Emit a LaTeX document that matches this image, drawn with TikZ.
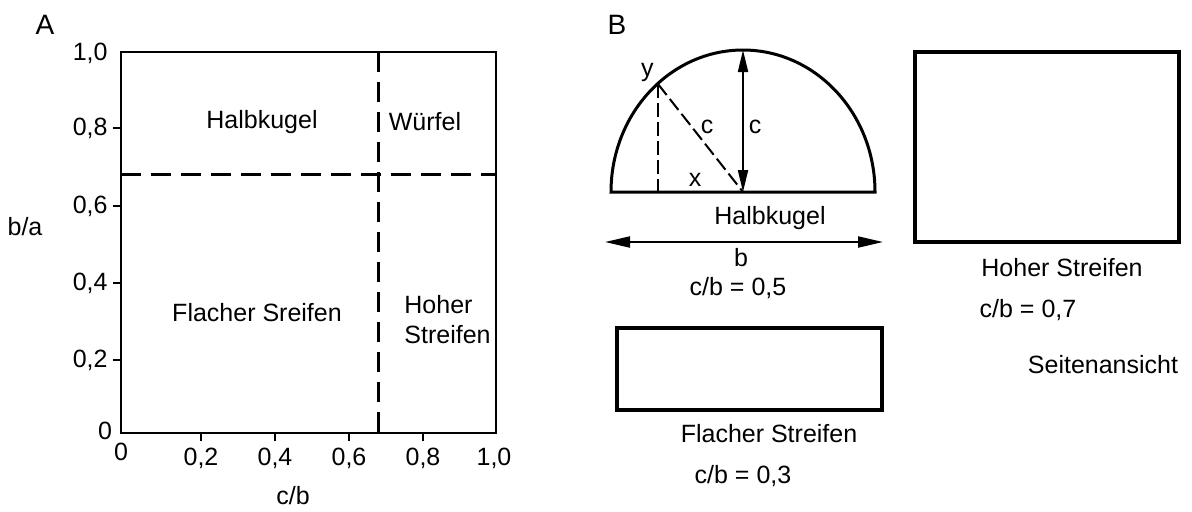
\documentclass[tikz,border=0pt]{standalone}
\usepackage{fontspec}
\setmainfont{Liberation Sans}
\usetikzlibrary{arrows.meta,positioning}

\begin{document}
\begin{tikzpicture}[
  x=0.5pt,y=-0.5pt,
  lbl/.style={font=\fontsize{12.5}{15}\selectfont,inner sep=0pt},
  panel/.style={font=\fontsize{14}{16}\selectfont,inner sep=0pt},
  frame/.style={line width=1.3pt},
  outline/.style={draw,line width=1.6pt,inner sep=0pt},
  split/.style={line width=1.5pt,dash pattern=on 10pt off 5pt},
  aux/.style={line width=1pt,dash pattern=on 7pt off 2.5pt},
  dim/.style={line width=1pt,{Triangle[length=11pt,width=5pt]}-{Triangle[length=11pt,width=5pt]}}
]
\useasboundingbox (0,0) rectangle (1192,511);

% A: Diagramm
\node[panel] (labA) at (45,25) {A};
\draw[frame] (121,52) rectangle (496,433);
\foreach \py/\d in {128/8,206/6,283/4,360/2} {
  \draw[frame] (113,\py) -- (121,\py);
  \node[lbl,anchor=east] at (108,\py) {0,\d};
}
\foreach \px/\d in {201/2,275/4,349/6,423/8} {
  \draw[frame] (\px,433) -- (\px,441);
  \node[lbl] at (\px,458) {0,\d};
}
\node[lbl,anchor=east] (y10) at (108,53) {1,0};
\node[lbl] (y0) at (105,431) {0};
\node[lbl] (x0) at (121,452) {0};
\node[lbl] (x10) at (494,458) {1,0};
\node[lbl] (ylab) at (25,227) {b/a};
\node[lbl] (xlab) at (293,496) {c/b};
\draw[split] (378,52) -- (378,433);
\draw[split] (121,174) -- (496,174);
\node[lbl] (hk) at (262,122) {Halbkugel};
\node[lbl] (wf) at (425,122) {Würfel};
\node[lbl] (fs) at (257,313) {Flacher Sreifen};
\node[lbl,anchor=west,align=left] (hs) at (404,320) {Hoher\\Streifen};

% B: Seitenansicht
\node[panel] (labB) at (617,25) {B};
\coordinate (ctr) at (743,192);
\coordinate (top) at (743,50);
\coordinate (yp) at (658,84);
\draw[line width=1.5pt] (611,192) arc[start angle=180,end angle=360,x radius=132,y radius=142] -- cycle;
\draw[aux] (yp) -- (658,192);
\draw[aux] (yp) -- (ctr);
\draw[dim] (ctr) -- (top);
\node[lbl,anchor=south east] (ly) at (654,82) {y};
\node[lbl] (lc1) at (707,127) {c};
\node[lbl] (lc2) at (755,127) {c};
\node[lbl] (lx) at (695,180) {x};
\node[lbl] (semi) at (770,218) {Halbkugel};
\coordinate (bl) at (605,242);
\coordinate (br) at (883,242);
\draw[dim,{Triangle[length=12.5pt,width=5.5pt]}-{Triangle[length=12.5pt,width=5.5pt]}] (bl) -- (br);
\node[lbl] (lb) at (741,258) {b};
\node[lbl] (r05) at (738,288) {c/b = 0,5};

\node[outline,minimum width=132.5pt,minimum height=41pt] (flat) at (749.5,369) {};
\node[lbl] (flab) at (769,434) {Flacher Streifen};
\node[lbl] (r03) at (743,476) {c/b = 0,3};

\node[outline,minimum width=132pt,minimum height=95pt] (high) at (1047,147) {};
\node[lbl] (hlab) at (1062,268) {Hoher Streifen};
\node[lbl] (r07) at (1028,310) {c/b = 0,7};
\node[lbl] (side) at (1103,365) {Seitenansicht};
\end{tikzpicture}
\end{document}
